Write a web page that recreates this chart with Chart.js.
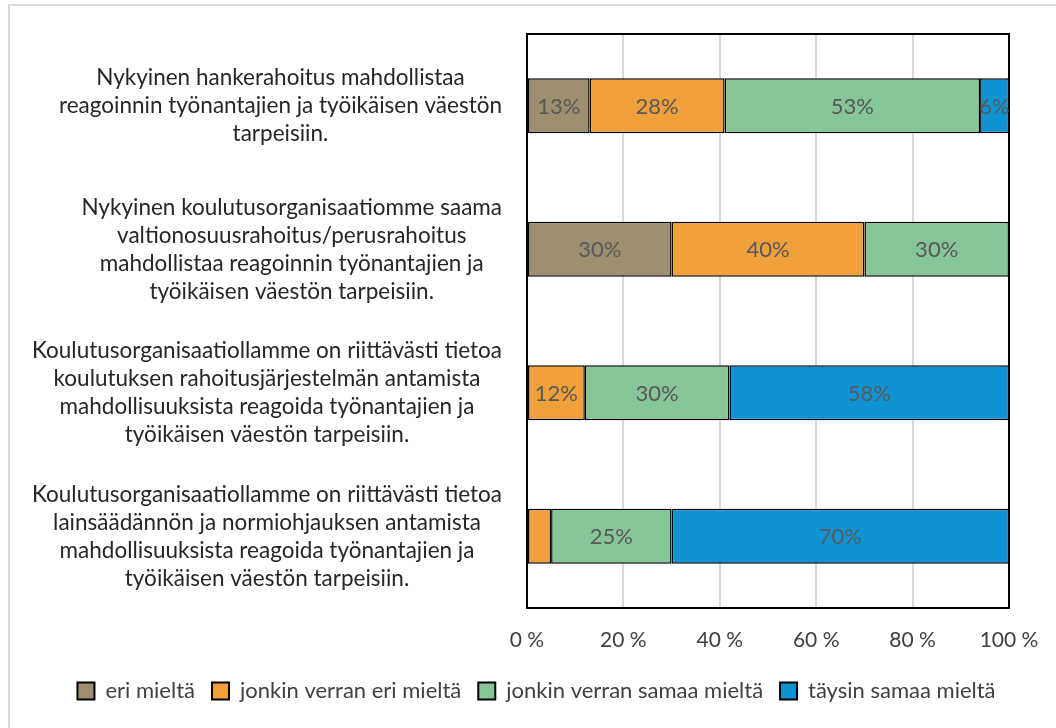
<!DOCTYPE html>
<html>
<head>
<meta charset="utf-8">
<script src="https://cdn.jsdelivr.net/npm/chart.js@4"></script>
<style>
  html, body { margin: 0; padding: 0; background: #fff; }
  #wrap { position: relative; width: 1056px; height: 728px; overflow: hidden; }
  #frame { position: absolute; left: 8px; top: 4px; width: 1100px; height: 800px; border: 2px solid #d9d9d9; box-sizing: border-box; }
  #myChart { position: absolute; left: 0; top: 0; }
</style>
</head>
<body>
<div id="wrap">
  <div id="frame"></div>
  <canvas id="myChart" width="1056" height="728"></canvas>
</div>
<script>
// kysymykset (y-akseli)
const categories = [
  ["Nykyinen hankerahoitus mahdollistaa", "reagoinnin työnantajien ja työikäisen väestön", "tarpeisiin."],
  ["Nykyinen koulutusorganisaatiomme saama", "valtionosuusrahoitus/perusrahoitus", "mahdollistaa reagoinnin työnantajien ja", "työikäisen väestön tarpeisiin."],
  ["Koulutusorganisaatiollamme on riittävästi tietoa", "koulutuksen rahoitusjärjestelmän antamista", "mahdollisuuksista reagoida työnantajien ja", "työikäisen väestön tarpeisiin."],
  ["Koulutusorganisaatiollamme on riittävästi tietoa", "lainsäädännön ja normiohjauksen antamista", "mahdollisuuksista reagoida työnantajien ja", "työikäisen väestön tarpeisiin."]
];

const seriesNames = ["eri mieltä", "jonkin verran eri mieltä", "jonkin verran samaa mieltä", "täysin samaa mieltä"];

// prosentit
const eriMielta = [13, 30, null, null];
const jonkinVerranEri = [28, 40, 12, 5];
const jonkinVerranSamaa = [53, 30, 30, 25];
const taysinSamaa = [6, null, 58, 70];

const xTickLabels = ["0 %", "20 %", "40 %", "60 %", "80 %", "100 %"];

const colors = ["#9c8e6e", "#efa03b", "#86c598", "#0f93d2"];

const fontName = "Lato, 'Open Sans', sans-serif";

// kehys, arvot palkkien keskelle, kategoriatekstit (Excelin tapaan lohko oikealle, rivit keskitetty)
const barLabels = {
  id: 'barLabels',
  afterLayout(chart) {
    // legenda on keskitetty koko kehykseen, joka jatkuu kuvan oikean reunan yli
    chart.legend.left += 27;
    chart.legend.right += 27;
  },
  afterDatasetsDraw(chart) {
    const ctx = chart.ctx;
    const a = chart.chartArea;
    ctx.save();
    ctx.strokeStyle = '#000';
    ctx.lineWidth = 2;
    ctx.strokeRect(a.left, a.top, a.right - a.left, a.bottom - a.top);

    ctx.font = '22px ' + fontName;
    ctx.fillStyle = '#595959';
    ctx.textAlign = 'center';
    ctx.textBaseline = 'middle';
    chart.data.datasets.forEach((ds, i) => {
      chart.getDatasetMeta(i).data.forEach((bar, j) => {
        const v = ds.data[j];
        if (v == null || v < 6) return;
        ctx.fillText(v + '%', (bar.x + bar.base) / 2, bar.y + 1);
      });
    });

    const y = chart.scales.y;
    const lh = 28;
    ctx.font = '22.5px ' + fontName;
    ctx.fillStyle = '#262626';
    chart.data.labels.forEach((lines, i) => {
      const widest = Math.max(...lines.map(t => ctx.measureText(t).width));
      const cx = y.right - 25 - widest / 2;
      const cy = y.getPixelForValue(i);
      lines.forEach((t, k) => {
        ctx.fillText(t, cx, cy + (k - (lines.length - 1) / 2) * lh);
      });
    });
    ctx.restore();
  }
};

const allSeries = [eriMielta, jonkinVerranEri, jonkinVerranSamaa, taysinSamaa];

const config = {
  type: 'bar',
  data: {
    labels: categories,
    datasets: allSeries.map((d, i) => ({
      label: seriesNames[i],
      data: d,
      backgroundColor: colors[i],
      borderColor: '#000',
      borderWidth: 1.5,
      borderSkipped: false,
      barPercentage: 0.385,
      categoryPercentage: 1
    }))
  },
  options: {
    indexAxis: 'y',
    responsive: false,
    animation: false,
    layout: { padding: { top: 34, right: 47, left: 10, bottom: 16 } },
    scales: {
      x: {
        stacked: true,
        min: 0,
        max: 100,
        ticks: {
          stepSize: 20,
          padding: 20,
          color: '#404040',
          font: { family: fontName, size: 21 },
          callback: (v, i) => xTickLabels[i]
        },
        grid: { color: '#d9d9d9', lineWidth: 2, drawTicks: false },
        border: { display: false },
        afterFit: s => { s.height = 55; s.paddingLeft = 0; s.paddingRight = 0; }
      },
      y: {
        stacked: true,
        ticks: { display: false },
        grid: { display: false, drawTicks: false },
        border: { display: false },
        afterFit: s => { s.width = 517; s.paddingTop = 0; s.paddingBottom = 0; }
      }
    },
    plugins: {
      legend: {
        position: 'bottom',
        labels: {
          boxWidth: 17,
          boxHeight: 17,
          padding: 17,
          color: '#404040',
          font: { family: fontName, size: 22 },
          generateLabels: chart => Chart.defaults.plugins.legend.labels.generateLabels(chart)
            .map(item => Object.assign(item, { lineWidth: 2 }))
        }
      },
      tooltip: { enabled: false }
    }
  },
  plugins: [barLabels]
};

const myChart = new Chart(document.getElementById('myChart'), config);
</script>
</body>
</html>
